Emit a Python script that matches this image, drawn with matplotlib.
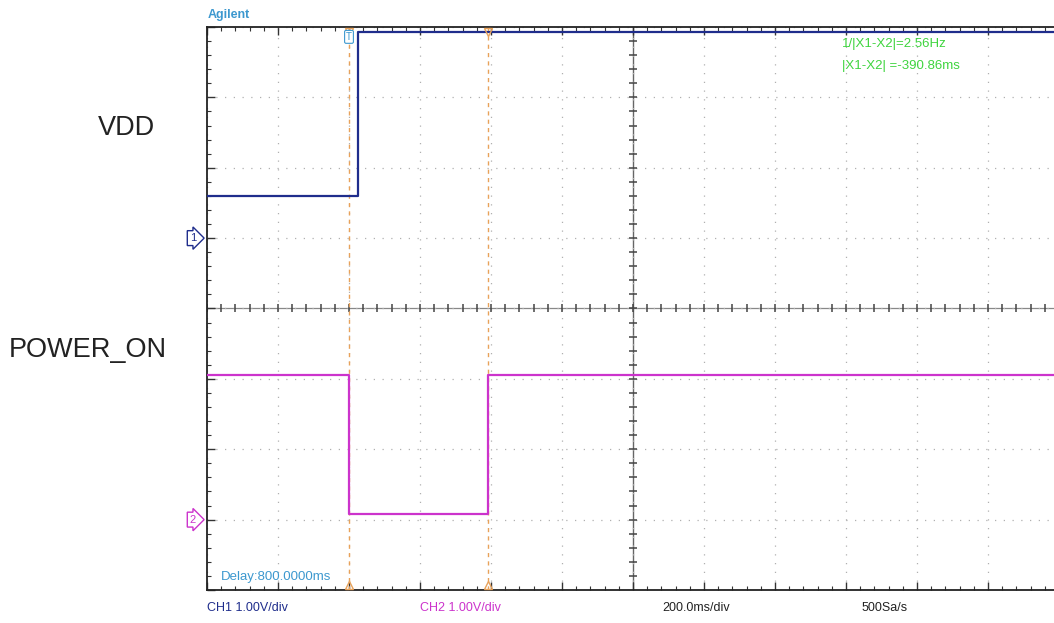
import numpy as np
import matplotlib
matplotlib.use("Agg")
from matplotlib import pyplot as plt

# Settings
plt.rcParams['font.family'] = ['Liberation Sans', 'DejaVu Sans']

# scope data, time in ms (trigger at 0), voltage in V
vdd_t = [-400, 25, 1986]
vdd_v = [0.60, 2.93, 2.93]
pwr_t = [-400, 0, 391, 1986]
pwr_v = [2.05, 0.08, 2.05, 2.05]

ch1_offset = 5   # divisions from bottom
ch2_offset = 1
volts_per_div = 1.0
ms_per_div = 200.0
delay_ms = 800.0
cursor_x1 = 0.0
cursor_x2 = 390.86

labels = ["VDD", "POWER_ON"]

BLUE = "#1f2d8c"
PINK = "#cc33cc"
ORANGE = "#e8a25a"
GREEN = "#3fd43f"
LBLUE = "#3c98cf"

fig = plt.figure(figsize=(10.54, 6.23), dpi=100)
ax = fig.add_axes([207 / 1054, 33 / 623, 847 / 1054, 563 / 623])

x_left = delay_ms - 6 * ms_per_div
x_right = x_left + 847 / 71 * ms_per_div
ax.set_xlim(x_left, x_right)
ax.set_ylim(0, 8)

# traces
ax.plot(vdd_t, np.array(vdd_v) / volts_per_div + ch1_offset, drawstyle="steps-post",
        color=BLUE, lw=1.6, zorder=5)
ax.plot(pwr_t, np.array(pwr_v) / volts_per_div + ch2_offset, drawstyle="steps-post",
        color=PINK, lw=1.6, zorder=5)

# grid
ax.set_xticks(np.arange(x_left, x_right, ms_per_div))
ax.set_xticks(np.arange(x_left, x_right, ms_per_div / 5), minor=True)
ax.set_yticks(np.arange(0, 9, 1))
ax.set_yticks(np.arange(0, 8.01, 0.2), minor=True)
ax.grid(True, which="major", color="#b0b0b0", lw=0.9, linestyle=(0, (1, 6)))
ax.tick_params(which="both", direction="in", top=True, bottom=True, left=True, right=False,
               labelbottom=False, labelleft=False, color="#333333")
ax.tick_params(which="major", length=6, width=1)
ax.tick_params(which="minor", length=3, width=0.8)
ax.spines["right"].set_visible(False)
for s in ["left", "top", "bottom"]:
    ax.spines[s].set_linewidth(1.3)
    ax.spines[s].set_color("#222222")

# center cross with ticks
ax.axhline(4, color="#888888", lw=0.9, zorder=1)
ax.axvline(delay_ms, color="#666666", lw=1.0, zorder=1)
tx = np.arange(x_left, x_right, ms_per_div / 5)
ax.plot(tx, np.full(len(tx), 4), "|", color="#444444", ms=6, mew=1.1, zorder=2)
ty = np.arange(0.2, 8, 0.2)
ax.plot(np.full(len(ty), delay_ms), ty, "_", color="#444444", ms=6, mew=1.1, zorder=2)

# cursors
for xc in [cursor_x1, cursor_x2]:
    ax.axvline(xc, color=ORANGE, lw=1.0, linestyle=(0, (3, 3)), zorder=3)
    ax.plot([xc], [7.93], marker="v", ms=6, mfc="none", mec=ORANGE, clip_on=False, zorder=6)
    ax.plot([xc], [0.07], marker="^", ms=6, mfc="none", mec=ORANGE, clip_on=False, zorder=6)

# trigger marker
ax.text(cursor_x1, 7.86, "T", ha="center", va="center", fontsize=7, color=LBLUE,
        bbox=dict(boxstyle="round,pad=0.15", fc="white", ec=LBLUE, lw=0.8), zorder=7)

# channel markers
for off, c, n in [(ch1_offset, BLUE, "1"), (ch2_offset, PINK, "2")]:
    ax.text(-0.013, off, n, transform=ax.get_yaxis_transform(), ha="right", va="center",
            fontsize=8, color=c, clip_on=False,
            bbox=dict(boxstyle="rarrow,pad=0.22", fc="white", ec=c, lw=1.0))

# cursor readouts
fig.text(842 / 1054, 1 - 44 / 623, "1/|X1-X2|=2.56Hz", fontsize=9.5, color=GREEN,
         va="center")
fig.text(842 / 1054, 1 - 66 / 623, "|X1-X2| =-390.86ms", fontsize=9.5, color=GREEN,
         va="center")

fig.text(208 / 1054, 1 - 15 / 623, "Agilent", fontsize=9, color=LBLUE,
         fontweight="bold", va="center")
fig.text(221 / 1054, 1 - 577 / 623, "Delay:800.0000ms", fontsize=9.5, color=LBLUE,
         va="center")

# bottom status line
fig.text(207 / 1054, 1 - 608 / 623, "CH1 1.00V/div", fontsize=9, color=BLUE, va="center")
fig.text(420 / 1054, 1 - 608 / 623, "CH2 1.00V/div", fontsize=9, color=PINK, va="center")
fig.text(662 / 1054, 1 - 608 / 623, "200.0ms/div", fontsize=9, color="#222222", va="center")
fig.text(862 / 1054, 1 - 608 / 623, "500Sa/s", fontsize=9, color="#222222", va="center")

# signal names
fig.text(126 / 1054, 1 - 128 / 623, labels[0], fontsize=19.5, color="#222222",
         ha="center", va="center")
fig.text(88 / 1054, 1 - 350 / 623, labels[1], fontsize=19.5, color="#222222",
         ha="center", va="center")

fig.savefig("out.png", dpi=100)
